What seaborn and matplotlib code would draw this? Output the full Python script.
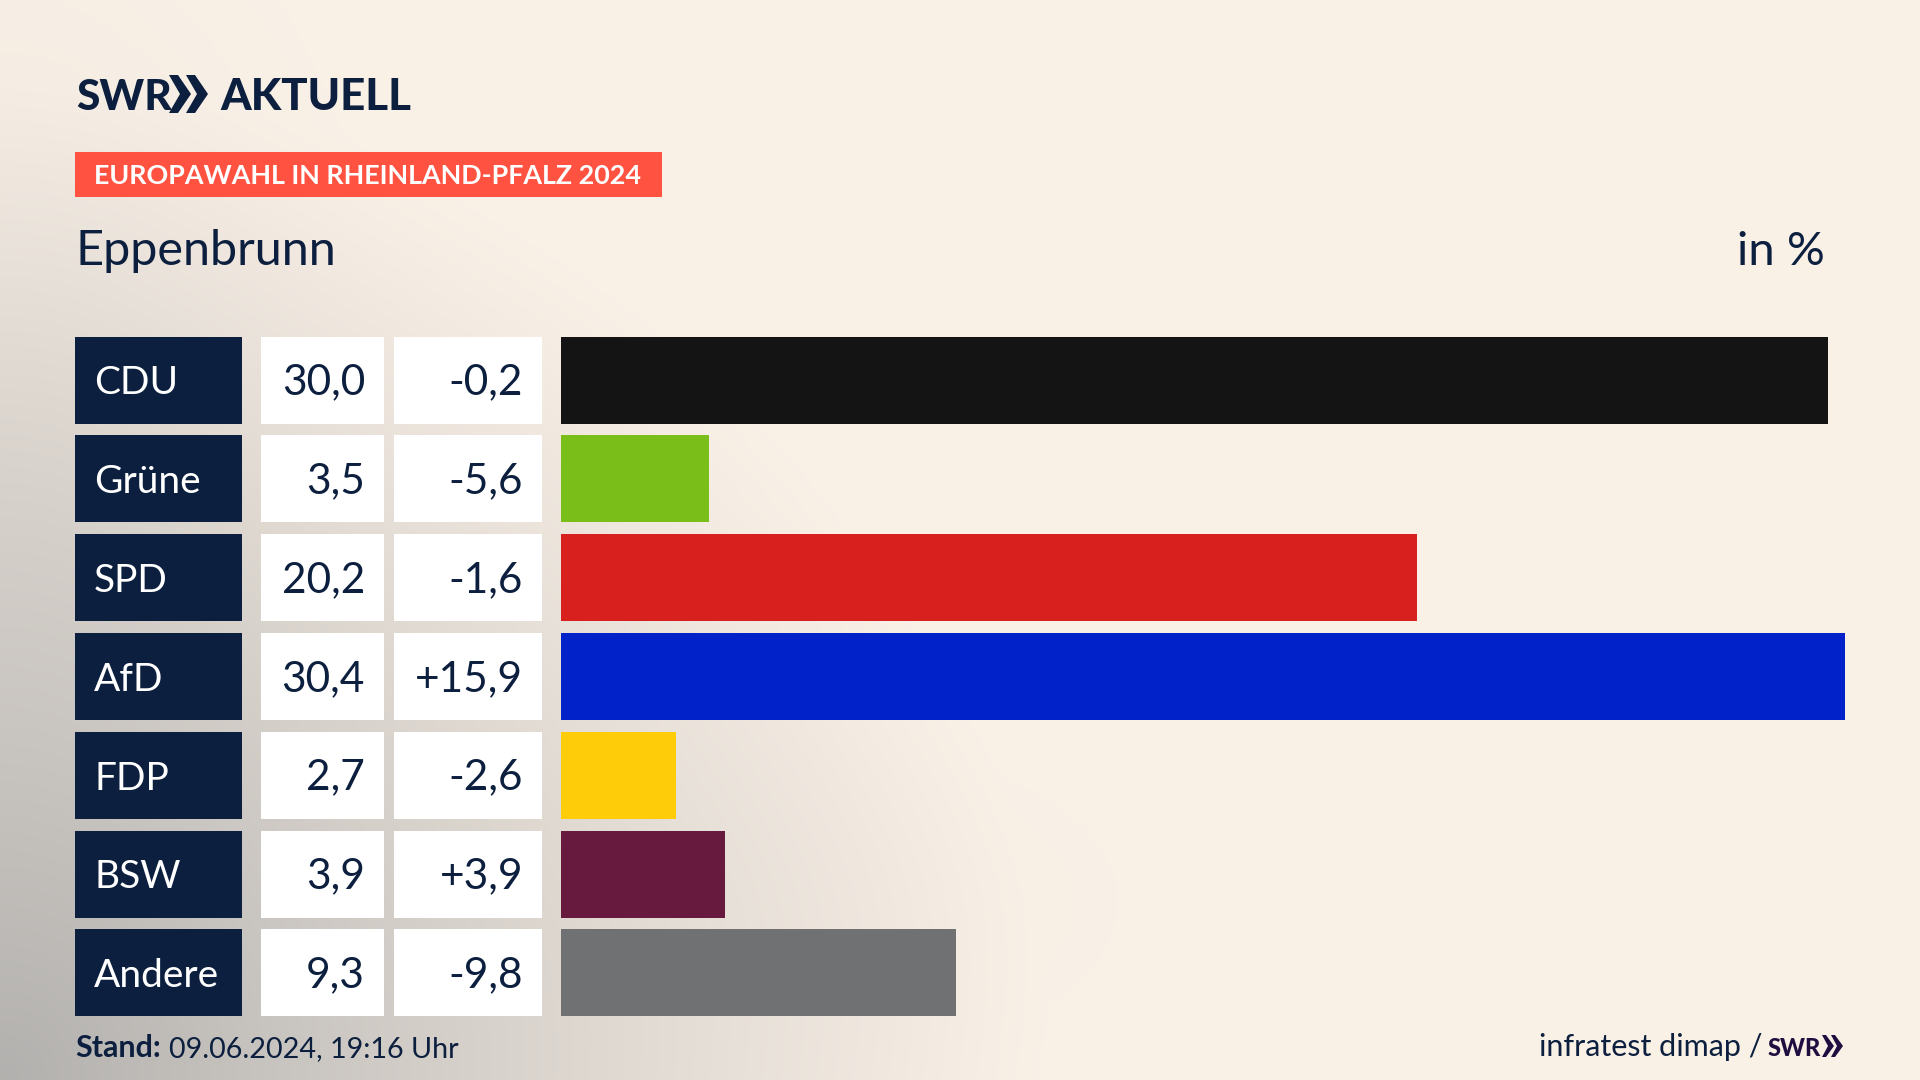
import numpy as np
import pandas as pd
import matplotlib
matplotlib.use("Agg")
import matplotlib.pyplot as plt
from matplotlib.patches import Rectangle, Polygon
import seaborn as sns

parties = ["CDU", "Grüne", "SPD", "AfD", "FDP", "BSW", "Andere"]
# bar lengths are a touch finer than the printed labels
shares = [30.0, 3.5, 20.26, 30.4, 2.72, 3.88, 9.35]
changes = ["-0,2", "-5,6", "-1,6", "+15,9", "-2,6", "+3,9", "-9,8"]
share_labels = ["30,0", "3,5", "20,2", "30,4", "2,7", "3,9", "9,3"]
bar_colors = ["#141414", "#7ABE1A", "#D8201F", "#0022C8", "#FFCC0A", "#671A3E", "#707173"]

NAVY = "#0C1F3E"

sns.set_theme(style="white")
plt.rcParams["font.family"] = ["Lato", "DejaVu Sans"]

fig = plt.figure(figsize=(19.2, 10.8), dpi=100)

# background with pixel coordinates, everything not data goes here
bg = fig.add_axes([0, 0, 1, 1], zorder=0)

yy, xx = np.mgrid[0:1080:4, 0:1920:4]
dist = np.sqrt((xx / 1050.0) ** 2 + ((1080 - yy) / 1000.0) ** 2)
shade = 0.64 * np.clip(1 - dist, 0, 1) ** 1.15
shade += 0.02 * np.exp(-(((xx - 850) / 300.0) ** 2 + ((yy - 900) / 170.0) ** 2))
shade += 0.09 * np.exp(-((xx / 260.0) ** 2 + ((yy - 450) / 420.0) ** 2))
cream = np.array([250, 241, 231]) / 255
gray = np.array([140, 142, 144]) / 255
img = cream[None, None, :] * (1 - shade[..., None]) + gray[None, None, :] * shade[..., None]
bg.imshow(np.clip(img, 0, 1), extent=(0, 1920, 1080, 0), aspect="auto", interpolation="bilinear")
bg.set_xlim(0, 1920)
bg.set_ylim(1080, 0)
bg.axis("off")

# table cells next to the bars
row_top = 336.5
row_h = 87
row_step = 98.8
for i, party in enumerate(parties):
    top = row_top + i * row_step
    base = top + 58
    bg.add_patch(Rectangle((75, top), 167, row_h, color=NAVY, lw=0))
    bg.add_patch(Rectangle((261, top), 123, row_h, color="white", lw=0))
    bg.add_patch(Rectangle((394, top), 148, row_h, color="white", lw=0))
    bg.text(94, base, party, color="white", fontsize=28, va="baseline", ha="left")
    bg.text(365, base, share_labels[i], color=NAVY, fontsize=30.5, va="baseline", ha="right")
    bg.text(523, base, changes[i], color=NAVY, fontsize=30.5, va="baseline", ha="right")

# bars
ax = fig.add_axes([561 / 1920, 1 - (row_top - (row_step - row_h) / 2 + 7 * row_step) / 1080,
                   (1845 - 561) / 1920, 7 * row_step / 1080], zorder=1)
df = pd.DataFrame({"party": parties, "share": shares})
sns.barplot(data=df, x="share", y="party", hue="party", palette=bar_colors, order=parties,
            hue_order=parties, width=row_h / row_step, dodge=False, legend=False, saturation=1,
            linewidth=0, ax=ax)
ax.set_xlim(0, 30.4)
ax.set_ylim(6.5, -0.5)
ax.axis("off")

# header
bg.text(76, 110, "SWR", color=NAVY, fontsize=30.5, fontweight="black", va="baseline")
for x0 in (169, 186):
    bg.add_patch(Polygon([(x0, 75), (x0 + 9, 75), (x0 + 22, 94), (x0 + 9, 113), (x0, 113), (x0 + 11, 94)], color=NAVY, lw=0))
bg.text(220, 110, "AKTUELL", color=NAVY, fontsize=31.5, fontweight="black", va="baseline")

bg.add_patch(Rectangle((75, 152), 587, 45, color="#FF5240", lw=0))
bg.text(94, 184, "EUROPAWAHL IN RHEINLAND-PFALZ 2024", color="white", fontsize=19.4, fontweight="bold", va="baseline")

bg.text(75, 265, "Eppenbrunn", color=NAVY, fontsize=35, va="baseline")
bg.text(1825, 265, "in %", color=NAVY, fontsize=34, va="baseline", ha="right")

# footer
bg.text(75, 1057, "Stand:", color=NAVY, fontsize=22, fontweight="bold", va="baseline")
bg.text(169, 1057, "09.06.2024, 19:16 Uhr", color=NAVY, fontsize=20.7, va="baseline")
bg.text(1539, 1056, "infratest dimap /", color=NAVY, fontsize=22, va="baseline")
bg.text(1768, 1056, "SWR", color="#1F0F40", fontsize=17, fontweight="black", va="baseline")
for x0 in (1822, 1831):
    bg.add_patch(Polygon([(x0, 1035), (x0 + 4, 1035), (x0 + 12, 1046), (x0 + 4, 1057), (x0, 1057), (x0 + 6, 1046)], color="#1F0F40", lw=0))

fig.savefig("out.png", dpi=100)
